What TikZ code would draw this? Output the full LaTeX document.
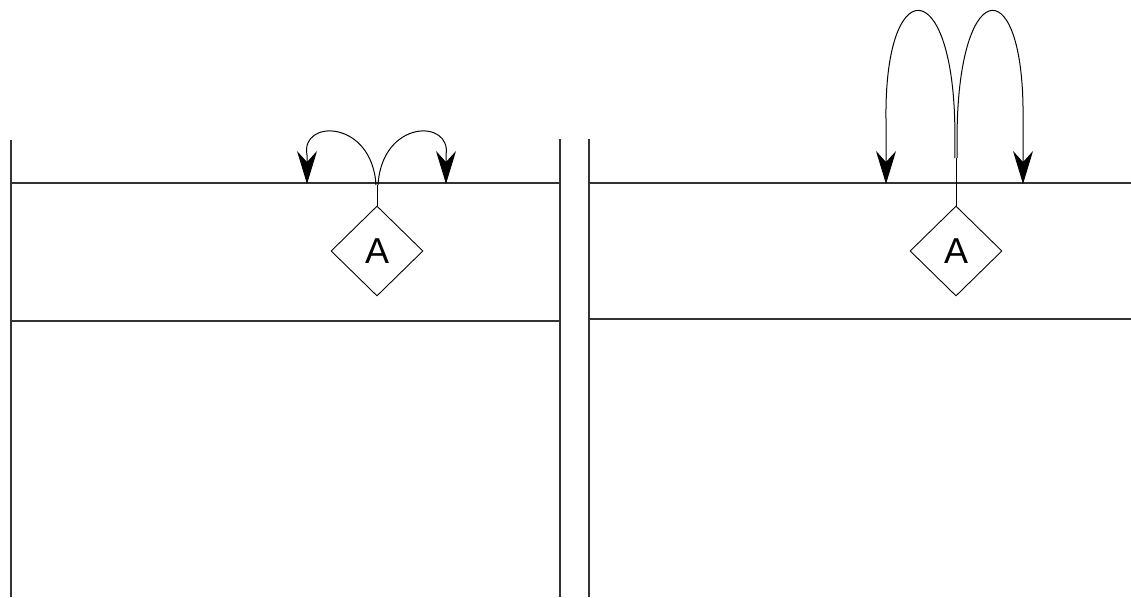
\documentclass[tikz,border=0pt]{standalone}
\usepackage{fontspec}
\setmainfont{Liberation Sans}
\usetikzlibrary{shapes.geometric,arrows.meta}
\newcommand{\bigA}{\fontsize{36}{38}\selectfont}
\tikzset{
  wall/.style={line width=1.6pt, black!80},
  rel/.style={diamond, draw, line width=0.9pt, inner sep=0pt, minimum width=92pt, minimum height=90pt},
  stub/.style={line width=1pt},
  jump/.style={line width=1pt, -{Stealth[length=33pt,width=20pt,inset=11pt]}}
}
\begin{document}
\begin{tikzpicture}[x=1pt,y=-1pt]
\useasboundingbox (0,0) rectangle (1131,597);
% left panel
\coordinate (L1t) at (11,140); \coordinate (L1b) at (11,597);
\coordinate (L2t) at (560,139); \coordinate (L2b) at (560,597);
\coordinate (Lh1a) at (11,183); \coordinate (Lh1b) at (560,183);
\coordinate (Lh2a) at (11,321); \coordinate (Lh2b) at (560,321);
\draw[wall] (L1t) -- (L1b);
\draw[wall] (L2t) -- (L2b);
\draw[wall] (Lh1a) -- (Lh1b);
\draw[wall] (Lh2a) -- (Lh2b);
% right panel
\coordinate (R1t) at (589,139); \coordinate (R1b) at (589,597);
\coordinate (Rh1a) at (589,183); \coordinate (Rh1b) at (1131,183);
\coordinate (Rh2a) at (589,319); \coordinate (Rh2b) at (1131,319);
\draw[wall] (R1t) -- (R1b);
\draw[wall] (Rh1a) -- (Rh1b);
\draw[wall] (Rh2a) -- (Rh2b);
% left diamond and short jumps
\node[rel] (dA1) at (377,251) {\bigA A};
\coordinate (s1) at (377,185);
\coordinate (t1l) at (307,184);
\coordinate (t1r) at (446,184);
\draw[stub] (dA1.north) -- (s1);
\draw[jump] ([xshift=-1pt]s1) .. controls (372,119) and (300,119) .. (307,155) -- (t1l);
\draw[jump] ([xshift=1pt]s1) .. controls (382,119) and (452,119) .. (446,155) -- (t1r);
% right diamond and tall jumps
\node[rel] (dA2) at (956,251) {\bigA A};
\coordinate (s2) at (956,158);
\coordinate (t2l) at (886,184);
\coordinate (t2r) at (1023,184);
\draw[stub] (dA2.north) -- (s2);
\draw[jump] ([xshift=-1.2pt]s2) -- (954.8,125) .. controls (952,-27) and (884,-27) .. (886,120) -- (t2l);
\draw[jump] ([xshift=1.2pt]s2) -- (957.2,125) .. controls (961,-27) and (1025,-27) .. (1023,120) -- (t2r);
\end{tikzpicture}
\end{document}
